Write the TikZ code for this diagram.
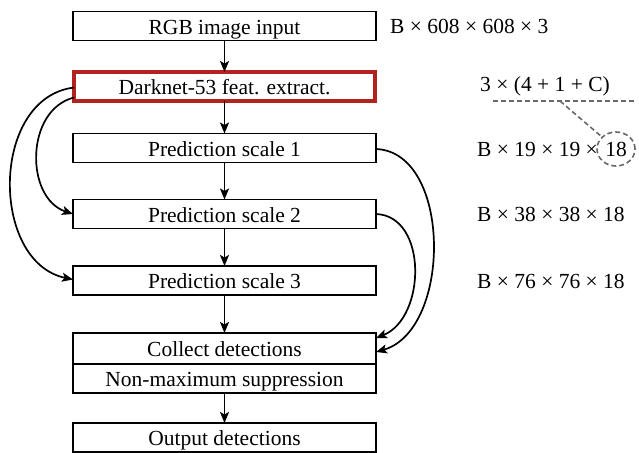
\documentclass[tikz,border=0pt]{standalone}
\usepackage{fontspec}
\setmainfont{Liberation Serif}
\usetikzlibrary{arrows.meta,shapes.geometric}
\definecolor{boxred}{RGB}{178,34,30}
\definecolor{dashgray}{RGB}{105,105,105}
\tikzset{
  fbox/.style={draw, line width=1.8pt, minimum width=303pt, minimum height=29pt, inner sep=0pt, outer sep=0pt, text height=18pt, text depth=1.6pt, font=\fontsize{21.5}{25}\selectfont},
  redbox/.style={fbox, draw=boxred, line width=3.5pt, minimum width=301pt, minimum height=29pt},
  lbl/.style={anchor=west, inner sep=0pt, font=\fontsize{21.5}{25}\selectfont},
  arr/.style={line width=1.7pt, -{Stealth[length=11pt,width=9pt,inset=2.5pt]}},
  dsh/.style={draw=dashgray, line width=1.6pt, dash pattern=on 5pt off 3pt}
}
\begin{document}
\begin{tikzpicture}[x=1pt,y=-1pt]
\useasboundingbox (0,0) rectangle (639,452);
\node[fbox] (rgb) at (224.5,26) {RGB image input};
\node[redbox] (dark) at (224.5,86.5) {Darknet-53 feat. extract.};
\node[fbox] (p1) at (224.5,148) {Prediction scale 1};
\node[fbox] (p2) at (224.5,214) {Prediction scale 2};
\node[fbox] (p3) at (224.5,280.5) {Prediction scale 3};
\node[fbox, minimum height=31pt] (col) at (224.5,348.5) {Collect detections};
\node[fbox, anchor=north] (nms) at (col.south) {Non-maximum suppression};
\node[fbox] (out) at (224.5,437.5) {Output detections};

\draw[arr] (rgb) -- (dark);
\draw[arr] (dark) -- (p1);
\draw[arr] (p1) -- (p2);
\draw[arr] (p2) -- (p3);
\draw[arr] (p3) -- (col);
\draw[arr] (nms) -- (out);

\draw[arr] ([yshift=-1pt]dark.west) .. controls (-10,98) and (-10,262) .. ([yshift=1pt]p3.west);
\draw[arr] ([yshift=-11pt]dark.west) .. controls (25,110) and (25,198) .. (p2.west);
\draw[arr] ([yshift=-1pt]p1.east) .. controls (452,152) and (452,330) .. ([yshift=-3.5pt]col.east);
\draw[arr] (p2.east) .. controls (428,216) and (426,318) .. ([yshift=10.5pt]col.east);

\node[lbl] (s0) at (390,26) {B × 608 × 608 × 3};
\node[inner sep=0pt, font=\fontsize{21.5}{25}\selectfont] (form) at (545,86) {3 × (4 + 1 + C)};
\coordinate (dl) at (493,101);
\coordinate (dr) at (636,101);
\coordinate (dm) at (560,101);
\draw[dsh] (dl) -- (dr);
\node[lbl] (s1) at (477,149) {B × 19 × 19 ×};
\node[dsh, ellipse, minimum width=38pt, minimum height=34pt, inner sep=0pt, font=\fontsize{21.5}{25}\selectfont] (c18) at (616,149) {18};
\draw[dsh] (dm) -- (c18);
\node[lbl] (s2) at (477,214) {B × 38 × 38 × 18};
\node[lbl] (s3) at (477,281) {B × 76 × 76 × 18};
\end{tikzpicture}
\end{document}
